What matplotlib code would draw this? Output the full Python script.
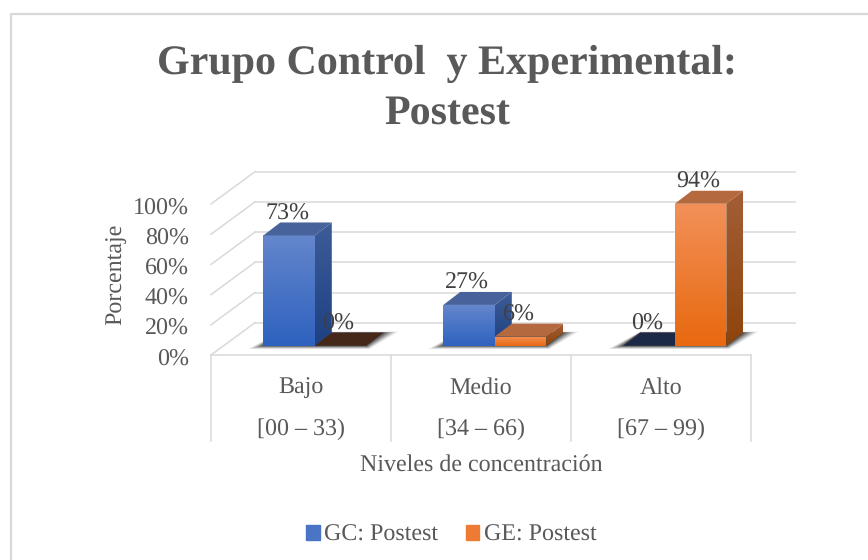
# Grupo Control y Experimental: Postest - 3D style column chart

import numpy as np
import matplotlib
matplotlib.use('Agg')
import matplotlib.pyplot as plt
from matplotlib.colors import LinearSegmentedColormap
from matplotlib.lines import Line2D
from matplotlib.patches import Patch, Polygon

plt.rcParams['font.family'] = ['Liberation Serif', 'DejaVu Serif']
plt.rcParams['text.hinting'] = 'no_hinting'
plt.rcParams['text.hinting_factor'] = 1

# Data
niveles = ['Bajo', 'Medio', 'Alto']
rangos = ['[00 – 33)', '[34 – 66)', '[67 – 99)']
gc_postest = [73, 27, 0]
ge_postest = [0, 6, 94]
y_ticks = [0, 20, 40, 60, 80, 100]

# Figure, one axes in category units (x) and percent (y)
W, H = 868, 560
PX_CAT = 180.0   # pixels per category
PX_PCT = 1.51    # pixels per percent
X0, Y0 = 211.0, 345.7   # pixel position of x=0, y=0

fig = plt.figure(figsize=(W / 100, H / 100), dpi=100)
ax = fig.add_axes([0, 0, 1, 1])
ax.set_xlim(-X0 / PX_CAT, (W - X0) / PX_CAT)
ax.set_ylim((Y0 - H) / PX_PCT, Y0 / PX_PCT)
ax.axis('off')

GRID = '#d9d9d9'
TEXT = '#595959'
LABEL = '#404040'
FS = 17.2
BAR_W = 51.5 / PX_CAT
BAR_START = 52.3 / PX_CAT     # first bar left edge inside a category
DEPTH_X = 17 / PX_CAT
DEPTH_Y = 13 / PX_PCT
WALL_X = 44 / PX_CAT
WALL_FRONT = (Y0 - 355) / PX_PCT
WALL_RISE = 32.3 / PX_PCT

blue = dict(front=('#6486cc', '#2e62bf'), side=('#3d5c98', '#1e4182'),
            top='#48639b', zero='#1c2a47')
orange = dict(front=('#f29058', '#e8690f'), side=('#a35e36', '#8e440c'),
              top='#b5693e', zero='#46281a')


def ypx(py):
    return (Y0 - py) / PX_PCT


# Chart border, only the top and left edges are in the picture
fig.add_artist(Line2D([11 / W, 11 / W, 1], [0, 1 - 13.5 / H, 1 - 13.5 / H], color=GRID, lw=1.6,
                      transform=fig.transFigure))

# Walls and floor
for t in y_ticks:
    y = WALL_FRONT + t * 30.2 / 20 / PX_PCT
    ax.plot([0, WALL_X], [y, y + WALL_RISE], color=GRID, lw=1.1, zorder=1)
    ax.plot([WALL_X, 3 + WALL_X], [y + WALL_RISE, y + WALL_RISE], color=GRID, lw=1.1, zorder=1)
ax.plot([0, 3], [WALL_FRONT, WALL_FRONT], color=GRID, lw=1.1, zorder=1)

# Category separators and labels
for i in range(4):
    ax.plot([i, i], [WALL_FRONT, ypx(441)], color=GRID, lw=1.1, zorder=1)
for i, (nivel, rango) in enumerate(zip(niveles, rangos)):
    ax.text(i + 0.5, ypx(388), nivel, ha='center', va='center', fontsize=FS, color=TEXT)
    ax.text(i + 0.5, ypx(429), rango, ha='center', va='center', fontsize=FS, color=TEXT)

# Value axis labels
for t in y_ticks:
    ax.text(-22 / PX_CAT, WALL_FRONT + (t * 30.2 / 20 - 4.5) / PX_PCT, f'{t}%', ha='right', va='center',
            fontsize=FS, color=TEXT)


def gradient(pts, colors, x0, x1, y0, y1, z):
    patch = Polygon(pts, closed=True, transform=ax.transData, fc='none', ec='none')
    ax.add_patch(patch)
    cmap = LinearSegmentedColormap.from_list('g', colors)
    im = ax.imshow(np.linspace(0, 1, 64).reshape(-1, 1), extent=(x0, x1, y1, y0), cmap=cmap,
                   aspect='auto', zorder=z, interpolation='bilinear', origin='upper')
    im.set_clip_path(patch)


def shadow(x0, x1):
    for grow, alpha in [(15, 0.10), (12, 0.16), (9, 0.22), (6, 0.30), (3, 0.40), (1, 0.45)]:
        gx = grow / PX_CAT
        gy = grow * 0.22 / PX_PCT
        pts = [(x0 - gx, -gy), (x1 + gx * 0.2, -gy),
               (x1 + DEPTH_X + gx, DEPTH_Y + gy * 0.3), (x0 + DEPTH_X, DEPTH_Y + gy * 0.3)]
        ax.add_patch(Polygon(pts, closed=True, fc='#303030', ec='none', alpha=alpha, zorder=2))


def bar3d(x, value, style, z):
    x1 = x + BAR_W
    top = [(x, value), (x1, value), (x1 + DEPTH_X, value + DEPTH_Y), (x + DEPTH_X, value + DEPTH_Y)]
    if value == 0:
        ax.add_patch(Polygon(top, closed=True, fc=style['zero'], ec='none', zorder=z))
        return
    gradient([(x, 0), (x1, 0), (x1, value), (x, value)], style['front'], x, x1, value, 0, z)
    side = [(x1, 0), (x1 + DEPTH_X, DEPTH_Y), (x1 + DEPTH_X, value + DEPTH_Y), (x1, value)]
    gradient(side, style['side'], x1, x1 + DEPTH_X, value + DEPTH_Y, 0, z)
    ax.add_patch(Polygon(top, closed=True, fc=style['top'], ec='none', zorder=z))


# Bars and data labels
for i in range(len(niveles)):
    x_gc = i + BAR_START
    x_ge = x_gc + BAR_W
    shadow(x_gc, x_ge + BAR_W)
    bar3d(x_gc, gc_postest[i], blue, 3 + i * 0.1)
    bar3d(x_ge, ge_postest[i], orange, 3 + i * 0.1 + 0.05)
for i in range(len(niveles)):
    x_gc = i + BAR_START
    for x, value in [(x_gc, gc_postest[i]), (x_gc + BAR_W, ge_postest[i])]:
        ax.text(x + BAR_W / 2 - 2 / PX_CAT, value + 22 / PX_PCT, f'{value}%', ha='center', va='center',
                fontsize=FS, color=LABEL, zorder=6)

# Titles
ax.text(1.5 - 34 / PX_CAT, ypx(64), 'Grupo Control  y Experimental:', ha='center', va='center',
        fontsize=30.3, fontweight='bold', color=TEXT)
ax.text(1.5 - 34 / PX_CAT, ypx(113), 'Postest', ha='center', va='center',
        fontsize=30.3, fontweight='bold', color=TEXT)
ax.text(-95 / PX_CAT, ypx(274), 'Porcentaje', rotation=90, ha='center', va='center',
        fontsize=FS, color=TEXT)
ax.text(1.5, ypx(465), 'Niveles de concentración', ha='center', va='center',
        fontsize=FS, color=TEXT)

# Legend
handles = [Patch(color='#4a75c6', label='GC: Postest'), Patch(color='#ee7b33', label='GE: Postest')]
ax.legend(handles=handles, loc='center', bbox_to_anchor=(451.5 / W, 1 - 535 / H), ncol=2, frameon=False,
          fontsize=FS, labelcolor=TEXT, handlelength=0.55, handleheight=0.55, handletextpad=0.2,
          columnspacing=1.15, borderpad=0)

fig.savefig('out.png', dpi=100)
